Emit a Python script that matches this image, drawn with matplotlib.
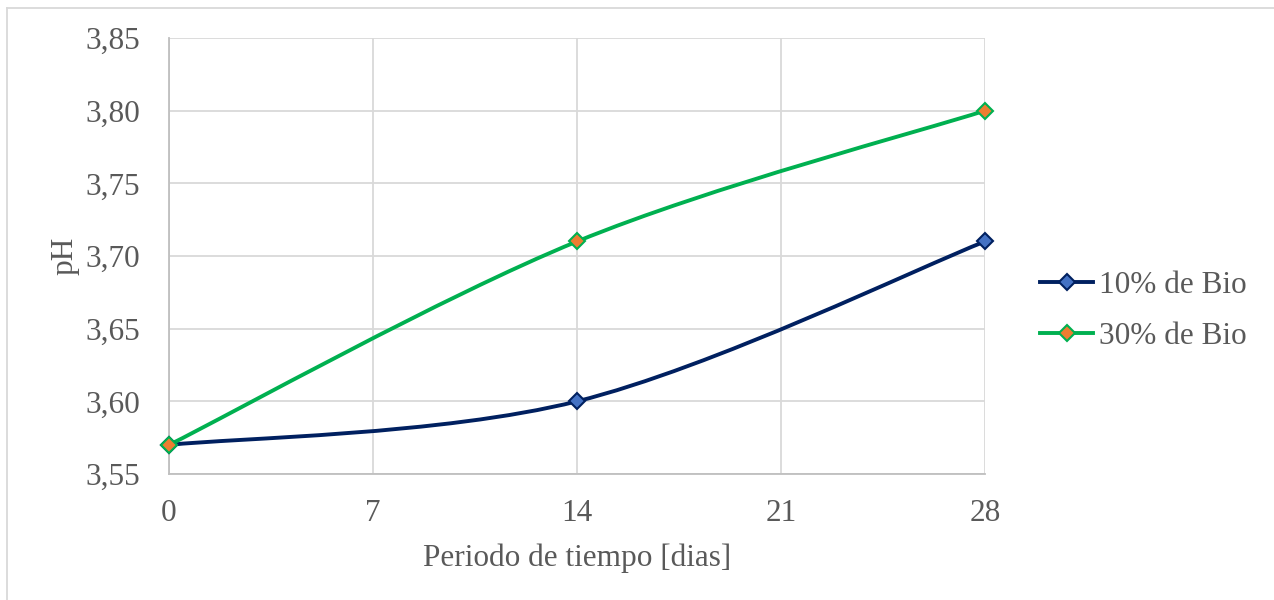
import numpy as np
import matplotlib
matplotlib.use("Agg")
import matplotlib.pyplot as plt
from matplotlib.path import Path
from matplotlib.patches import PathPatch
from matplotlib.lines import Line2D
from matplotlib.ticker import FuncFormatter

# data
dias = [0, 14, 28]
ph_10 = [3.57, 3.60, 3.71]
ph_30 = [3.57, 3.71, 3.80]
series_names = ["10% de Bio", "30% de Bio"]
line_colors = ["#002060", "#00B050"]
marker_colors = ["#4472C4", "#ED7D31"]
x_ticks = [0, 7, 14, 21, 28]
y_ticks = [3.55, 3.60, 3.65, 3.70, 3.75, 3.80, 3.85]

plt.rcParams["font.family"] = ["Liberation Serif", "DejaVu Serif"]
TXT = "#595959"
FS = 22.5


def smooth_path(x, y):
    """Excel-like smoothed line: cubic Bezier with tangents from neighbours."""
    pts = np.column_stack([x, y]).astype(float)
    n = len(pts)
    verts = [pts[0]]
    codes = [Path.MOVETO]
    for i in range(n - 1):
        p0 = pts[i - 1] if i > 0 else pts[i]
        p1, p2 = pts[i], pts[i + 1]
        p3 = pts[i + 2] if i + 2 < n else pts[i + 1]
        c1 = p1 + (p2 - p0) / 6.0
        c2 = p2 - (p3 - p1) / 6.0
        verts += [c1, c2, p2]
        codes += [Path.CURVE4] * 3
    return Path(verts, codes)


fig = plt.figure(figsize=(12.74, 6.0), dpi=100)
ax = fig.add_axes([169 / 1274, 1 - 474 / 600, (985 - 169) / 1274, (474 - 38) / 600])

for xs, ys, lc, mc, name in zip([dias, dias], [ph_10, ph_30], line_colors,
                                 marker_colors, series_names):
    ax.add_patch(PathPatch(smooth_path(xs, ys), facecolor="none", edgecolor=lc,
                           linewidth=2.8, zorder=3, capstyle="round", clip_on=False))
    ax.plot(xs, ys, linestyle="none", marker="D", markersize=8.5,
            markerfacecolor=mc, markeredgecolor=lc, markeredgewidth=1.5,
            zorder=4, clip_on=False)

ax.set_xlim(0, 28)
ax.set_ylim(3.55, 3.85)
ax.set_xticks(x_ticks)
ax.set_yticks(y_ticks)
ax.yaxis.set_major_formatter(FuncFormatter(lambda v, p: f"{v:.2f}".replace(".", ",")))
ax.tick_params(axis="both", length=0, labelsize=FS, colors=TXT)
ax.tick_params(axis="x", pad=18)
ax.tick_params(axis="y", pad=21)
ax.grid(True, color="#D9D9D9", linewidth=1.3)
ax.set_axisbelow(True)
for s in ["top", "right"]:
    ax.spines[s].set_visible(False)
for s in ["left", "bottom"]:
    ax.spines[s].set_color("#BFBFBF")
    ax.spines[s].set_linewidth(1.3)

ax.set_xlabel("Periodo de tiempo [dias]", fontsize=FS, color=TXT, labelpad=11)
ax.set_ylabel("pH", fontsize=FS, color=TXT, labelpad=4)

handles = [Line2D([0], [0], color=lc, linewidth=2.8, marker="D", markersize=8.5,
                  markerfacecolor=mc, markeredgecolor=lc, markeredgewidth=1.5)
           for lc, mc in zip(line_colors, marker_colors)]
leg = fig.legend(handles, series_names, loc="center left",
                 bbox_to_anchor=(1040 / 1274, 1 - 311 / 600), frameon=False,
                 fontsize=FS, labelcolor=TXT, handlelength=1.7, handletextpad=0.2,
                 labelspacing=0.7, borderaxespad=0, borderpad=0)

# outer chart border (top and left visible)
fig.add_artist(Line2D([7 / 1274, 1], [1 - 8 / 600, 1 - 8 / 600], color="#D9D9D9",
                      linewidth=1.3, transform=fig.transFigure))
fig.add_artist(Line2D([7 / 1274, 7 / 1274], [0, 1 - 8 / 600], color="#D9D9D9",
                      linewidth=1.3, transform=fig.transFigure))

fig.savefig("out.png", dpi=100)
